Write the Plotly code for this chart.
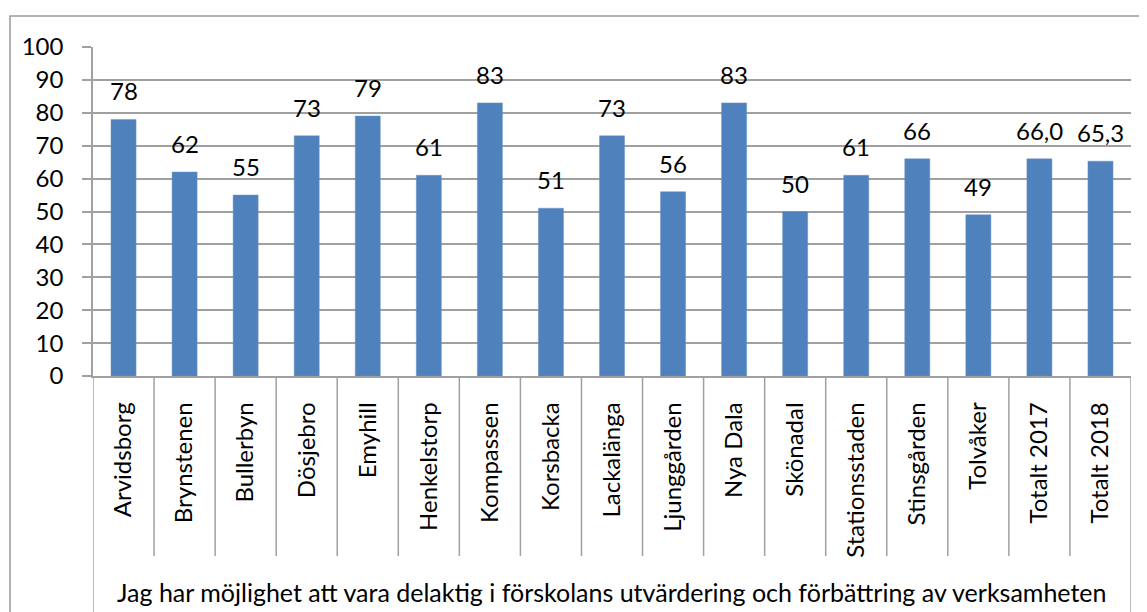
import plotly.graph_objects as go

categories = ["Arvidsborg", "Brynstenen", "Bullerbyn", "Dösjebro", "Emyhill", "Henkelstorp",
              "Kompassen", "Korsbacka", "Lackalänga", "Ljunggården", "Nya Dala", "Skönadal",
              "Stationsstaden", "Stinsgården", "Tolvåker", "Totalt 2017", "Totalt 2018"]
values = [78, 62, 55, 73, 79, 61, 83, 51, 73, 56, 83, 50, 61, 66, 49, 66.0, 65.3]
value_labels = ["78", "62", "55", "73", "79", "61", "83", "51", "73", "56", "83", "50",
                "61", "66", "49", "66,0", "65,3"]
group_label = "Jag har möjlighet att vara delaktig i förskolans utvärdering och förbättring av verksamheten"
y_ticks = [0, 10, 20, 30, 40, 50, 60, 70, 80, 90, 100]

FONT = "Lato"
FS = 24
GRID = "#a0a0a0"

OFF = 8  # page body margin
W, H = 1147, 612
L, R, T, B = 93, 1131, 47, 376
ml, mt = L - OFF, T - OFF
mr = W - (R - OFF)
mb = H - (B - OFF)
plot_h = B - T
plot_w = R - L

def py(pix):
    return (B - pix) / plot_h

def px(pix):
    return (pix - L) / plot_w

xs = list(range(len(categories)))

fig = go.Figure()
fig.add_trace(go.Bar(
    x=xs, y=values, width=0.41,
    marker=dict(color="#4f81bd", line=dict(color="#6a93c6", width=0.5)),
    hoverinfo="skip",
))

for xi, v, t in zip(xs, values, value_labels):
    fig.add_annotation(x=xi, y=v, text=t, showarrow=False, yanchor="bottom",
                       yshift=12, font=dict(family=FONT, size=FS, color="black"))

shapes = []
for i in range(len(categories) + 1):
    y_end = py(612) if i in (0, len(categories)) else py(556)
    shapes.append(dict(type="line", xref="x", yref="paper", x0=i - 0.5, x1=i - 0.5,
                       y0=0, y1=y_end, line=dict(color=GRID, width=1.5)))
shapes.append(dict(type="rect", xref="paper", yref="paper", x0=px(10), x1=px(1170),
                   y0=py(660), y1=py(16), line=dict(color="#9a9a9a", width=1.5),
                   layer="below"))
fig.update_layout(shapes=shapes)

fig.add_annotation(xref="paper", yref="paper", x=0.5, y=py(592), yanchor="middle",
                   text=group_label, showarrow=False,
                   font=dict(family=FONT, size=25, color="black"))

fig.update_layout(
    width=W, height=H,
    margin=dict(l=ml, r=mr, t=mt, b=mb),
    paper_bgcolor="white", plot_bgcolor="white",
    showlegend=False,
    font=dict(family=FONT, size=FS, color="black"),
    xaxis=dict(
        tickmode="array", tickvals=xs, ticktext=categories, tickangle=-90,
        range=[-0.5, len(categories) - 0.5], showgrid=False, zeroline=False,
        showline=True, linecolor=GRID, linewidth=1.5, ticks="",
        ticklabelstandoff=15,
        tickfont=dict(family=FONT, size=FS, color="black"),
    ),
    yaxis=dict(
        range=[0, 100], tickvals=y_ticks, showgrid=True, gridcolor=GRID, gridwidth=1.5,
        zeroline=False, showline=True, linecolor=GRID, linewidth=1.5,
        ticks="outside", ticklen=9, tickcolor=GRID, tickwidth=1.5,
        ticklabelstandoff=14,
        tickfont=dict(family=FONT, size=FS, color="black"),
    ),
)

fig.write_html("out.html")
